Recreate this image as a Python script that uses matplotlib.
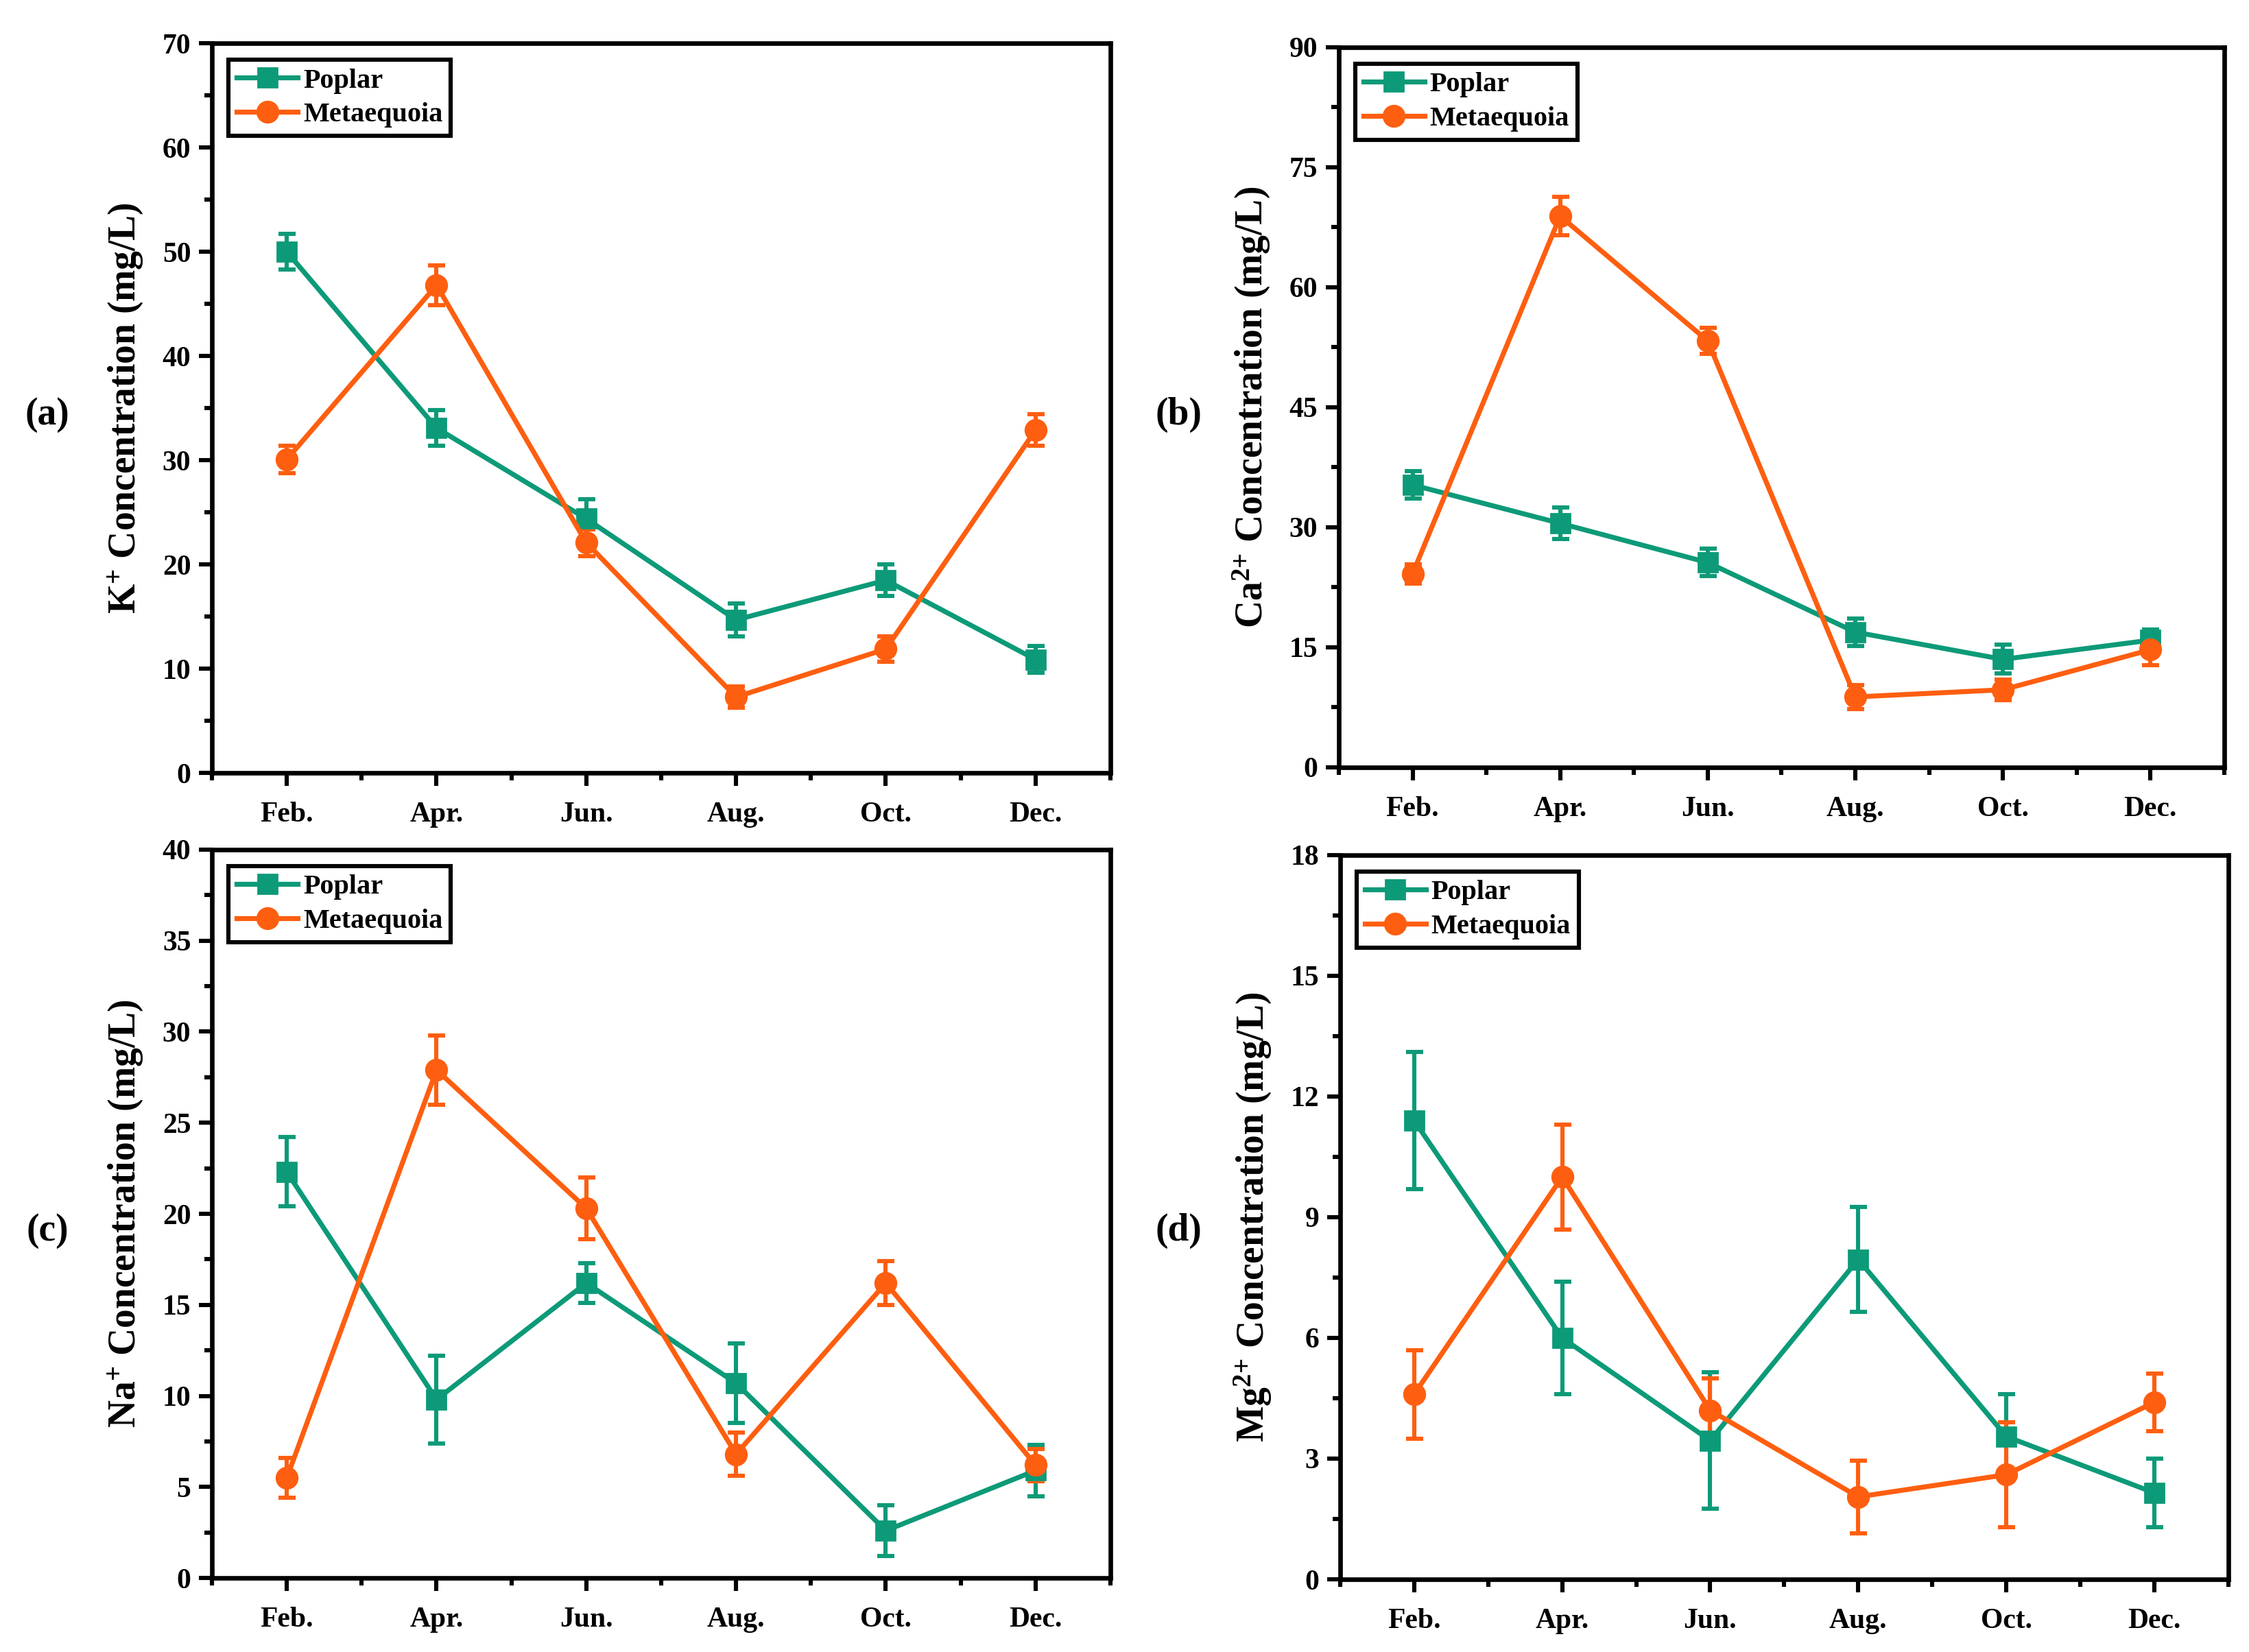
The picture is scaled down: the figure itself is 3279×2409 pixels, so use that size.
import numpy as np
import matplotlib
matplotlib.use('Agg')
import matplotlib.pyplot as plt
from matplotlib.ticker import AutoMinorLocator, MultipleLocator

plt.rcParams['font.family'] = 'Liberation Serif'
plt.rcParams['font.weight'] = 'bold'
plt.rcParams['mathtext.fontset'] = 'custom'
plt.rcParams['mathtext.rm'] = 'Liberation Serif:bold'
plt.rcParams['mathtext.default'] = 'rm'

months = ['Feb.', 'Apr.', 'Jun.', 'Aug.', 'Oct.', 'Dec.']

# K+
k_poplar = [50.0, 33.1, 24.4, 14.7, 18.5, 10.9]
k_poplar_err = [1.7, 1.7, 1.9, 1.6, 1.5, 1.3]
k_meta = [30.1, 46.8, 22.1, 7.3, 11.9, 32.9]
k_meta_err = [1.3, 1.9, 1.3, 1.0, 1.2, 1.5]

# Ca2+
ca_poplar = [35.3, 30.5, 25.6, 16.9, 13.5, 15.9]
ca_poplar_err = [1.7, 2.0, 1.7, 1.7, 1.8, 1.3]
ca_meta = [24.2, 68.9, 53.3, 8.8, 9.7, 14.7]
ca_meta_err = [1.2, 2.4, 1.6, 1.5, 1.3, 1.9]

# Na+
na_poplar = [22.3, 9.8, 16.2, 10.7, 2.6, 5.9]
na_poplar_err = [1.9, 2.4, 1.1, 2.2, 1.4, 1.4]
na_meta = [5.5, 27.9, 20.3, 6.8, 16.2, 6.2]
na_meta_err = [1.1, 1.9, 1.7, 1.2, 1.2, 0.9]

# Mg2+
mg_poplar = [11.4, 6.0, 3.45, 7.95, 3.55, 2.15]
mg_poplar_err = [1.7, 1.4, 1.7, 1.3, 1.05, 0.85]
mg_meta = [4.6, 10.0, 4.2, 2.05, 2.6, 4.4]
mg_meta_err = [1.1, 1.3, 0.8, 0.9, 1.3, 0.72]

green = '#0d9a78'
orange = '#fd5e0f'

fig = plt.figure(figsize=(16.4, 12.045), dpi=200)

panels = [
    ([0.0942, 0.532, 0.3994, 0.4418], k_poplar, k_poplar_err, k_meta, k_meta_err,
     70, 10, r'K$^{+}$ Concentration (mg/L)', '(a)', (0.021, 0.749)),
    ([0.5951, 0.5355, 0.3936, 0.4359], ca_poplar, ca_poplar_err, ca_meta, ca_meta_err,
     90, 15, r'Ca$^{2{+}}$ Concentration (mg/L)', '(b)', (0.524, 0.749)),
    ([0.0942, 0.0448, 0.3994, 0.4409], na_poplar, na_poplar_err, na_meta, na_meta_err,
     40, 5, r'Na$^{+}$ Concentration (mg/L)', '(c)', (0.021, 0.255)),
    ([0.5957, 0.044, 0.3948, 0.4384], mg_poplar, mg_poplar_err, mg_meta, mg_meta_err,
     18, 3, r'Mg$^{2{+}}$ Concentration (mg/L)', '(d)', (0.524, 0.255)),
]

x = np.arange(len(months))

for rect, p, pe, m, me, ymax, step, ylab, tag, tagpos in panels:
    ax = fig.add_axes(rect)
    c1 = ax.errorbar(x, p, yerr=pe, color=green, marker='s', markersize=10, lw=2.6,
                     capsize=4.5, capthick=2.2, elinewidth=2.2)
    c2 = ax.errorbar(x, m, yerr=me, color=orange, marker='o', markersize=11, lw=2.6,
                     capsize=4.5, capthick=2.2, elinewidth=2.2)
    ax.set_xlim(-0.5, 5.5)
    ax.set_ylim(0, ymax)
    ax.set_xticks(x)
    ax.set_xticklabels(months)
    ax.yaxis.set_major_locator(MultipleLocator(step))
    ax.xaxis.set_minor_locator(AutoMinorLocator(2))
    ax.yaxis.set_minor_locator(AutoMinorLocator(2))
    ax.tick_params(which='major', direction='out', length=7, width=2.2, labelsize=15, pad=8)
    ax.tick_params(which='minor', direction='out', length=4, width=2.2)
    ax.tick_params(axis='y', pad=4)
    for s in ax.spines.values():
        s.set_linewidth(2.4)
    ax.set_ylabel(ylab, fontsize=20, fontweight='bold')
    ax.yaxis.set_label_coords(-0.075, 0.5)
    leg = ax.legend([c1[0], c2[0]], ['Poplar', 'Metaequoia'], loc='upper left',
                    fontsize=14.5, frameon=True, fancybox=False,
                    edgecolor='black', framealpha=1, handlelength=2.2,
                    borderaxespad=0.6, borderpad=0.3, handletextpad=0.2, labelspacing=0.3)
    leg.get_frame().set_linewidth(2.2)
    fig.text(tagpos[0], tagpos[1], tag, fontsize=20, fontweight='bold', ha='center', va='center')

fig.savefig('out.png', dpi=200)
